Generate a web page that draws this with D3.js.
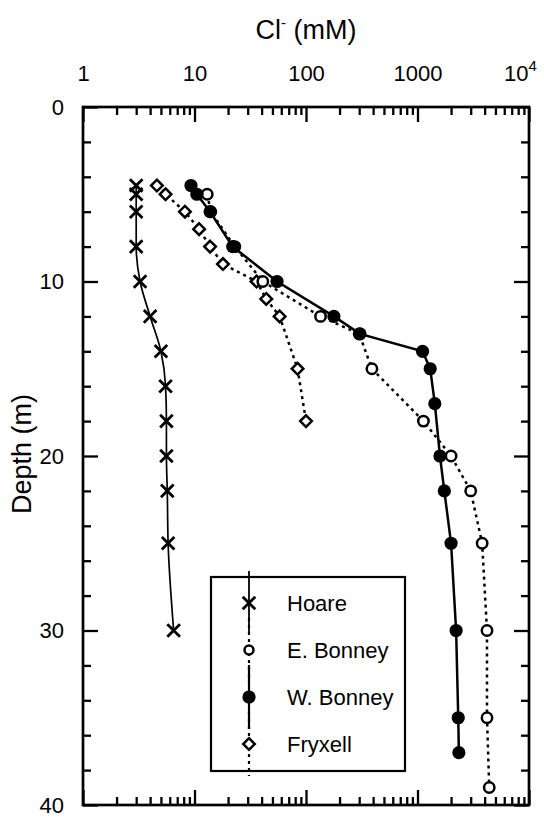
<!DOCTYPE html>
<html>
<head>
<meta charset="utf-8">
<script src="https://cdn.jsdelivr.net/npm/d3@7"></script>
<style>
  body { margin: 0; background: #fff; }
  text { font-family: "Liberation Sans", Arial, Helvetica, sans-serif; fill: #000; }
</style>
</head>
<body>
<svg id="chart" width="544" height="818"></svg>
<script>
// chloride profiles (mM) vs depth (m)
var hoareDepth = [4.5, 5, 6, 8, 10, 12, 14, 16, 18, 20, 22, 25, 30];
var hoareCl = [3.0, 3.0, 3.0, 3.0, 3.25, 4.0, 5.0, 5.5, 5.6, 5.6, 5.7, 5.8, 6.5];

var eBonneyDepth = [5, 6, 8, 10, 12, 13, 15, 18, 20, 22, 25, 30, 35, 39];
var eBonneyCl = [13, 14, 23, 41, 135, 300, 390, 1130, 2000, 3000, 3800, 4200, 4200, 4400];

var wBonneyDepth = [4.5, 5, 6, 8, 10, 12, 13, 14, 15, 17, 20, 22, 25, 30, 35, 37];
var wBonneyCl = [9.3, 10.5, 13.8, 22, 55, 178, 305, 1110, 1300, 1430, 1590, 1740, 2000, 2220, 2320, 2350];

var fryxellDepth = [4.5, 5, 6, 7, 8, 9, 10, 11, 12, 15, 18];
var fryxellCl = [4.6, 5.5, 8.2, 11, 13.8, 18, 36, 44, 58, 84, 100];

var xTickLabels = ["1", "10", "100", "1000", "10^4"];
var xMajor = [1, 10, 100, 1000, 10000];
var yMajor = [0, 10, 20, 30, 40];
var seriesNames = ["Hoare", "E. Bonney", "W. Bonney", "Fryxell"];

var svg = d3.select("#chart");
var pLeft = 83, pRight = 529, pTop = 107, pBottom = 805;

var x = d3.scaleLog().domain([1, 10000]).range([pLeft, pRight]);
var y = d3.scaleLinear().domain([0, 40]).range([pTop, pBottom]);

// minor ticks
var xMinor = [];
[1, 10, 100, 1000].forEach(function (p) {
  for (var k = 2; k <= 9; k++) xMinor.push(k * p);
});
var yMinor = d3.range(0, 41, 2).filter(function (d) { return d % 10 != 0; });

function clean(g) {
  g.select(".domain").remove();
  g.selectAll(".tick line").attr("stroke", "#000").attr("stroke-width", 2.3);
}

// top axis
svg.append("g").attr("transform", "translate(0," + pTop + ")")
  .call(d3.axisTop(x).tickValues(xMinor).tickSize(-8).tickFormat(""))
  .call(clean);
var topAx = svg.append("g").attr("transform", "translate(0," + pTop + ")")
  .call(d3.axisTop(x).tickValues(xMajor).tickSize(-15).tickPadding(26)
    .tickFormat(function (d, i) { return xTickLabels[i]; }))
  .call(clean);
topAx.selectAll("text").attr("font-size", 22).attr("font-family", "Liberation Sans, Arial, sans-serif");
topAx.selectAll("text").each(function (d, i) {
  var lab = xTickLabels[i];
  if (lab.indexOf("^") > 0) {
    var parts = lab.split("^");
    var t = d3.select(this).text("").attr("text-anchor", "middle").attr("dx", -9);
    t.append("tspan").text(parts[0]);
    t.append("tspan").attr("dy", -10).attr("font-size", 15).text(parts[1]);
  }
});

// bottom axis
svg.append("g").attr("transform", "translate(0," + pBottom + ")")
  .call(d3.axisBottom(x).tickValues(xMinor).tickSize(-8).tickFormat(""))
  .call(clean);
svg.append("g").attr("transform", "translate(0," + pBottom + ")")
  .call(d3.axisBottom(x).tickValues(xMajor).tickSize(-15).tickFormat(""))
  .call(clean);

// left axis
svg.append("g").attr("transform", "translate(" + pLeft + ",0)")
  .call(d3.axisLeft(y).tickValues(yMinor).tickSize(-8).tickFormat(""))
  .call(clean);
var leftAx = svg.append("g").attr("transform", "translate(" + pLeft + ",0)")
  .call(d3.axisLeft(y).tickValues(yMajor).tickSize(-15).tickPadding(19))
  .call(clean);
leftAx.selectAll("text").attr("font-size", 22).attr("font-family", "Liberation Sans, Arial, sans-serif");

// right axis
svg.append("g").attr("transform", "translate(" + pRight + ",0)")
  .call(d3.axisRight(y).tickValues(yMinor).tickSize(-8).tickFormat(""))
  .call(clean);
svg.append("g").attr("transform", "translate(" + pRight + ",0)")
  .call(d3.axisRight(y).tickValues(yMajor).tickSize(-15).tickFormat(""))
  .call(clean);

// frame
svg.append("rect")
  .attr("x", pLeft).attr("y", pTop)
  .attr("width", pRight - pLeft).attr("height", pBottom - pTop)
  .attr("fill", "none").attr("stroke", "#000").attr("stroke-width", 2.7);

// titles
var title = svg.append("text").attr("x", 306).attr("y", 39)
  .attr("text-anchor", "middle").attr("font-size", 27);
title.append("tspan").text("Cl");
title.append("tspan").attr("dy", -11).attr("font-size", 15).text("-");
title.append("tspan").attr("dy", 11).text(" (mM)");

svg.append("text")
  .attr("transform", "translate(31,454) rotate(-90)")
  .attr("text-anchor", "middle").attr("font-size", 27)
  .text("Depth (m)");

// data
function pts(depths, vals) {
  return depths.map(function (d, i) { return { depth: d, cl: vals[i] }; });
}
var hoare = pts(hoareDepth, hoareCl);
var eBonney = pts(eBonneyDepth, eBonneyCl);
var wBonney = pts(wBonneyDepth, wBonneyCl);
var fryxell = pts(fryxellDepth, fryxellCl);

var line = d3.line().x(function (d) { return x(d.cl); }).y(function (d) { return y(d.depth); });
var smooth = d3.line().x(function (d) { return x(d.cl); }).y(function (d) { return y(d.depth); })
  .curve(d3.curveMonotoneY);

svg.append("path").datum(fryxell).attr("d", line)
  .attr("fill", "none").attr("stroke", "#000").attr("stroke-width", 2.5).attr("stroke-dasharray", "3,4");
svg.append("path").datum(eBonney).attr("d", line)
  .attr("fill", "none").attr("stroke", "#000").attr("stroke-width", 2.5).attr("stroke-dasharray", "3,4");
svg.append("path").datum(wBonney).attr("d", line)
  .attr("fill", "none").attr("stroke", "#000").attr("stroke-width", 2.5);
svg.append("path").datum(hoare).attr("d", smooth)
  .attr("fill", "none").attr("stroke", "#000").attr("stroke-width", 1.7);

// markers
function drawX(g, cx, cy) {
  var s = 6.3;
  g.append("path")
    .attr("d", "M" + (cx - s) + "," + (cy - s) + "L" + (cx + s) + "," + (cy + s) +
      "M" + (cx - s) + "," + (cy + s) + "L" + (cx + s) + "," + (cy - s))
    .attr("stroke", "#000").attr("stroke-width", 2.8).attr("fill", "none");
}
function drawOpen(g, cx, cy, r) {
  g.append("circle").attr("cx", cx).attr("cy", cy).attr("r", r || 5.2)
    .attr("fill", "#fff").attr("stroke", "#000").attr("stroke-width", 2.5);
}
function drawFilled(g, cx, cy) {
  g.append("circle").attr("cx", cx).attr("cy", cy).attr("r", 6.6).attr("fill", "#000");
}
function drawDiamond(g, cx, cy) {
  var s = 5.8;
  g.append("path")
    .attr("d", "M" + cx + "," + (cy - s) + "L" + (cx + s) + "," + cy + "L" + cx + "," + (cy + s) + "L" + (cx - s) + "," + cy + "Z")
    .attr("fill", "#fff").attr("stroke", "#000").attr("stroke-width", 2.5);
}

var mk = svg.append("g");
fryxell.forEach(function (d) { drawDiamond(mk, x(d.cl), y(d.depth)); });
eBonney.forEach(function (d) { drawOpen(mk, x(d.cl), y(d.depth)); });
wBonney.forEach(function (d) { drawFilled(mk, x(d.cl), y(d.depth)); });
hoare.forEach(function (d) { drawX(mk, x(d.cl), y(d.depth)); });

// legend
var lg = svg.append("g");
lg.append("rect").attr("x", 211).attr("y", 577).attr("width", 194).attr("height", 194)
  .attr("fill", "#fff").attr("stroke", "#000").attr("stroke-width", 2.2);
var lx = 249, ly0 = 603, lstep = 47;
var styles = [
  { dash: null, w: 1.8 },
  { dash: "3,4", w: 2.2 },
  { dash: null, w: 2.2 },
  { dash: "3,4", w: 2.2 }
];
seriesNames.forEach(function (name, i) {
  var cy = ly0 + i * lstep;
  lg.append("line").attr("x1", lx).attr("x2", lx).attr("y1", cy - 32).attr("y2", cy + 32)
    .attr("stroke", "#000").attr("stroke-width", styles[i].w)
    .attr("stroke-dasharray", styles[i].dash);
});
seriesNames.forEach(function (name, i) {
  var cy = ly0 + i * lstep;
  if (i == 0) drawX(lg, lx, cy);
  if (i == 1) drawOpen(lg, lx, cy, 4.5);
  if (i == 2) drawFilled(lg, lx, cy);
  if (i == 3) drawDiamond(lg, lx, cy);
  lg.append("text").attr("x", 287).attr("y", cy + 8).attr("font-size", 22).text(name);
});
</script>
</body>
</html>
